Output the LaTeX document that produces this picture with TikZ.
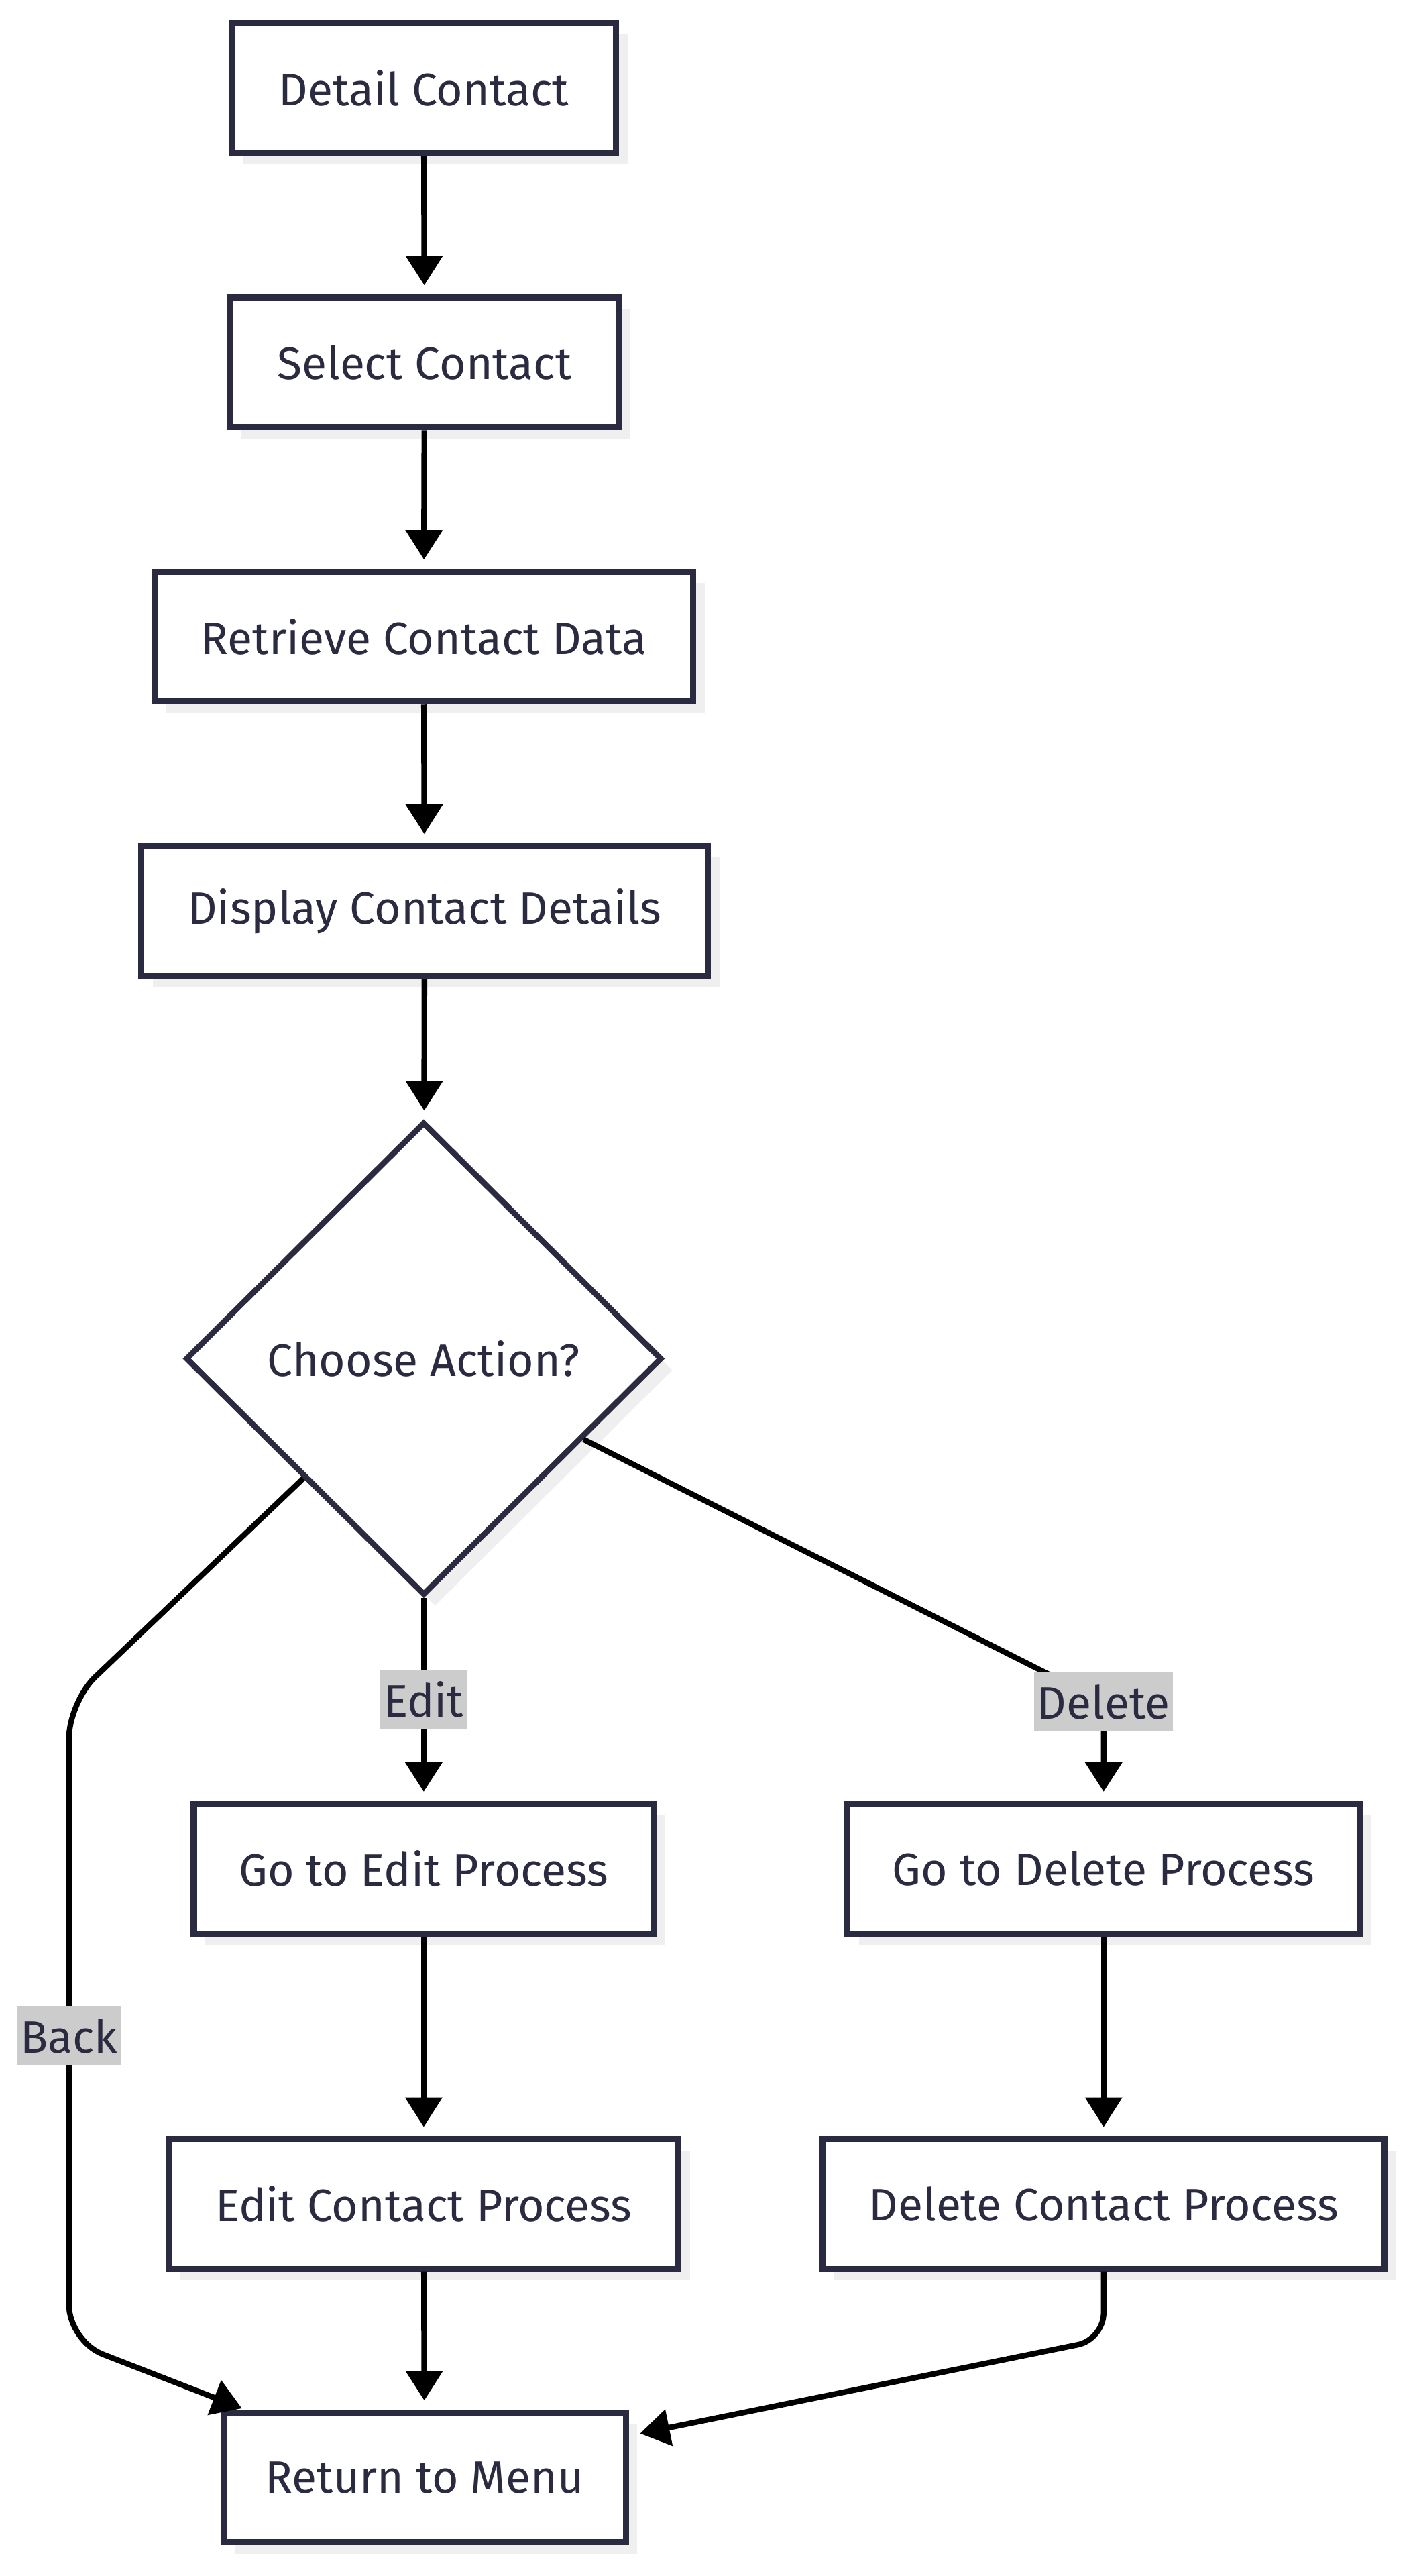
\documentclass[tikz,border=0pt]{standalone}
\usepackage{fontspec}
\setmainfont{Fira Sans}
\usetikzlibrary{shapes.geometric,arrows.meta,shadows,calc}
\definecolor{NodeInk}{HTML}{2A2A40}
\definecolor{ShadowGrey}{HTML}{EFEFEF}
\definecolor{LabelGrey}{HTML}{CCCCCC}

\begin{document}
\begin{tikzpicture}[x=1pt,y=1pt,yscale=-1,xscale=1,
		font=\fontsize{27.7}{32}\selectfont,
		stepbox/.style={draw=NodeInk, line width=3.7pt, fill=white, text=NodeInk,
			minimum height=79pt, inner sep=0pt,
			drop shadow={shadow xshift=7pt, shadow yshift=-7pt, fill=ShadowGrey, opacity=1}},
		choice/.style={diamond, draw=NodeInk, line width=3.5pt, fill=white, text=NodeInk,
			minimum width=290pt, minimum height=288pt, inner sep=0pt,
			drop shadow={shadow xshift=7pt, shadow yshift=-7pt, fill=ShadowGrey, opacity=1}},
		flow/.style={line width=3.4pt, -{Triangle[width=22pt,length=18pt]}, shorten >=5.5pt},
		tag/.style={fill=LabelGrey, text=NodeInk, sharp corners, inner xsep=2pt, inner ysep=0pt, minimum height=36pt}]
		\useasboundingbox (0,0) rectangle (860,1568);

		% Main column of steps
		\node[stepbox, minimum width=234pt] (detail) at (258,53.5) {Detail Contact};
		\node[stepbox, minimum width=237pt] (select) at (258.5,220.5) {Select Contact};
		\node[stepbox, minimum width=328pt] (retrieve) at (258,387.5) {Retrieve Contact Data};
		\node[stepbox, minimum width=345pt] (display) at (258.5,554.5) {Display Contact Details};

		% The decision
		\node[choice] (choice) at (258,827) {Choose Action?};

		% The two branches
		\node[stepbox, minimum width=280pt] (goedit) at (258,1137.5) {Go to Edit Process};
		\node[stepbox, minimum width=312pt] (godelete) at (672,1137.5) {Go to Delete Process};
		\node[stepbox, minimum width=310pt] (editproc) at (258,1341.5) {Edit Contact Process};
		\node[stepbox, minimum width=342pt] (delproc) at (672,1341.5) {Delete Contact Process};

		% The end
		\node[stepbox, minimum width=245pt] (ret) at (258.5,1508) {Return to Menu};

		% Bend points of the routed connectors
		\coordinate (dturn) at (672,1036);
		\coordinate (backtop) at (42,1036);
		\coordinate (backlow) at (42,1425);
		\coordinate (delcorner) at (672,1424);

		% Straight connectors down the main column
		\draw[flow] (detail) -- (select);
		\draw[flow] (select) -- (retrieve);
		\draw[flow] (retrieve) -- (display);
		\draw[flow] (display) -- (choice);

		% Edit branch
		\draw[flow] (choice) -- node[tag] {Edit} (goedit);
		\draw[flow] (goedit) -- (editproc);
		\draw[flow] (editproc) -- (ret);

		% Delete branch
		\draw[flow, rounded corners=12pt] (choice) -- (dturn) node[tag] {Delete} -- (godelete);
		\draw[flow] (godelete) -- (delproc);
		\draw[flow, rounded corners=16pt, shorten >=7pt] (delproc) -- (delcorner) -- ($(ret.north east)+(0,16)$);

		% Back to the menu
		\draw[flow, rounded corners=22pt, shorten >=2pt] (choice.south west) -- (backtop)
			-- node[tag, pos=0.523] {Back} (backlow) -- ($(ret.north west)+(15,0)$);
	\end{tikzpicture}
\end{document}
